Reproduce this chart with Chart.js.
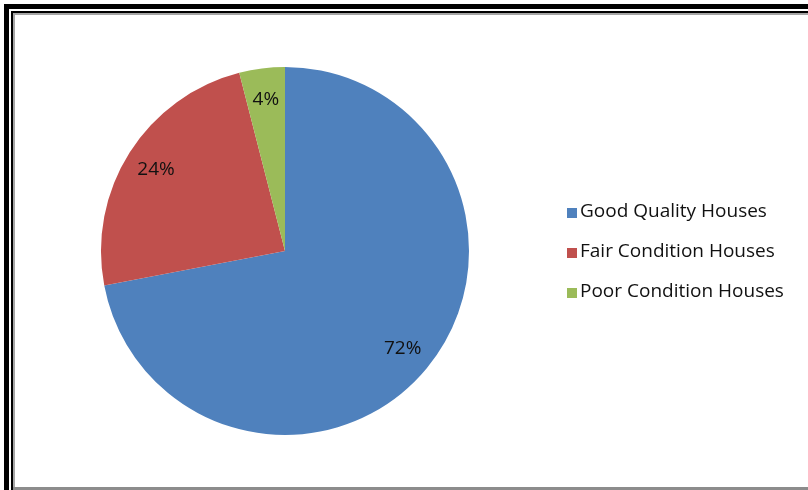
<!DOCTYPE html>
<html>
<head>
<meta charset="utf-8">
<script src="https://cdn.jsdelivr.net/npm/chart.js@4/dist/chart.umd.min.js"></script>
<style>
  html, body { margin: 0; padding: 0; background: #fff; }
  #wrap { position: relative; width: 808px; height: 490px; overflow: hidden; background: #fff; }
  #wrap canvas { position: absolute; left: 0; top: 0; }
  .ln { position: absolute; pointer-events: none; }
</style>
</head>
<body>
<div id="wrap">
  <canvas id="c" width="808" height="490"></canvas>
  <!-- double frame -->
  <div class="ln" style="left:4px;top:4px;width:804px;height:5px;background:#000"></div>
  <div class="ln" style="left:4px;top:4px;width:5px;height:486px;background:#000"></div>
  <div class="ln" style="left:11px;top:11px;width:797px;height:2px;background:#000"></div>
  <div class="ln" style="left:11px;top:11px;width:2px;height:479px;background:#000"></div>
  <div class="ln" style="left:13px;top:13px;width:795px;height:2px;background:#a6a6a6"></div>
  <div class="ln" style="left:13px;top:13px;width:2px;height:477px;background:#a6a6a6"></div>
  <div class="ln" style="left:13px;top:487px;width:795px;height:3px;background:#8c8c8c"></div>
</div>
<script>
const categories = ['Good Quality Houses', 'Fair Condition Houses', 'Poor Condition Houses'];
const shares = [72, 24, 4];
const sliceColors = ['#4F81BD', '#C0504D', '#9BBB59'];

const FONT = "'Open Sans', Lato, sans-serif";

// percentage labels placed at 83% of the radius along each slice's mid-angle
const sliceLabels = {
  id: 'sliceLabels',
  afterDatasetsDraw(chart) {
    const ctx = chart.ctx;
    const meta = chart.getDatasetMeta(0);
    const data = chart.data.datasets[0].data;
    ctx.save();
    ctx.font = '19px ' + FONT;
    ctx.fillStyle = '#111';
    ctx.textAlign = 'center';
    ctx.textBaseline = 'middle';
    meta.data.forEach((arc, i) => {
      const p = arc.getProps(['x', 'y', 'startAngle', 'endAngle', 'outerRadius'], true);
      const mid = (p.startAngle + p.endAngle) / 2;
      const r = p.outerRadius * 0.83;
      ctx.fillText(data[i] + '%', p.x + Math.cos(mid) * r, p.y + Math.sin(mid) * r);
    });
    ctx.restore();
  }
};

// legend on the right: small square swatch followed by the category name
const sideLegend = {
  id: 'sideLegend',
  afterDraw(chart) {
    const ctx = chart.ctx;
    const colors = chart.data.datasets[0].backgroundColor;
    const x0 = 567, y0 = 212, step = 40, box = 10;
    ctx.save();
    ctx.font = '19px ' + FONT;
    ctx.textBaseline = 'middle';
    ctx.textAlign = 'left';
    chart.data.labels.forEach((lab, i) => {
      const y = y0 + i * step;
      ctx.fillStyle = colors[i];
      ctx.fillRect(x0, y - box / 2 + 1, box, box);
      ctx.fillStyle = '#111';
      ctx.fillText(lab, x0 + box + 3, y);
    });
    ctx.restore();
  }
};

new Chart(document.getElementById('c'), {
  type: 'pie',
  data: {
    labels: categories,
    datasets: [{
      data: shares,
      backgroundColor: sliceColors,
      borderWidth: 0
    }]
  },
  options: {
    responsive: false,
    animation: false,
    layout: { padding: { left: 101, right: 339, top: 67, bottom: 55 } },
    plugins: {
      legend: { display: false },
      tooltip: { enabled: false }
    }
  },
  plugins: [sliceLabels, sideLegend]
});
</script>
</body>
</html>
